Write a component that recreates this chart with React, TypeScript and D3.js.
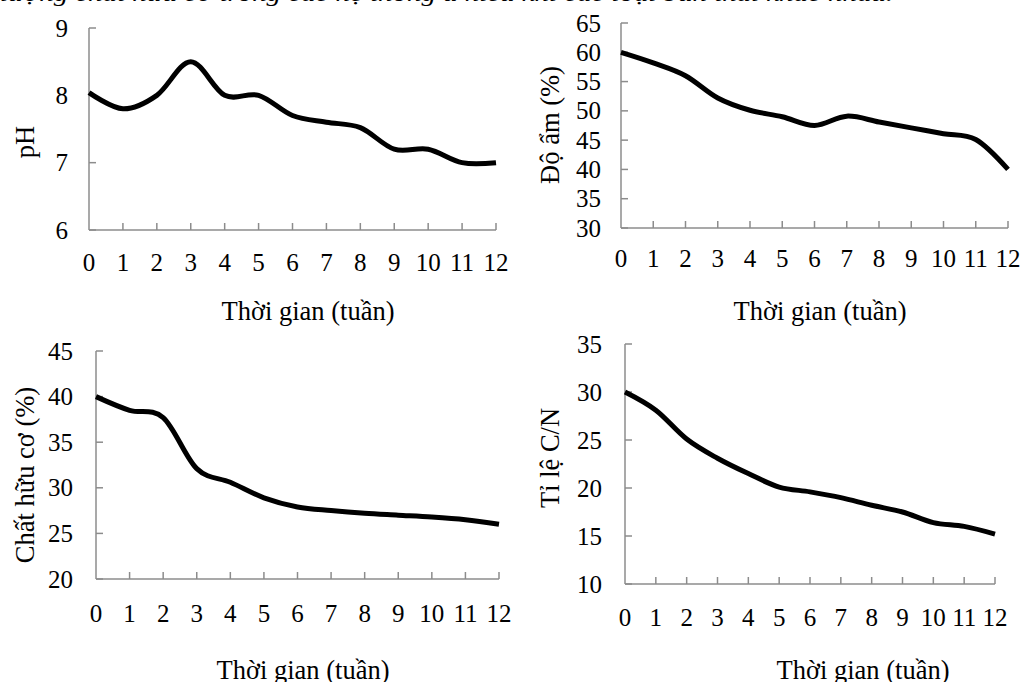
import React from 'react';
import * as d3 from 'd3';

const weeks = [0, 1, 2, 3, 4, 5, 6, 7, 8, 9, 10, 11, 12];
const phValues = [8.04, 7.8, 8.0, 8.5, 8.0, 8.0, 7.7, 7.6, 7.52, 7.2, 7.2, 7.0, 7.0];
const moistureValues = [60, 58.2, 56, 52.2, 50.1, 49, 47.5, 49.1, 48.1, 47.1, 46.1, 45.1, 40];
const organicValues = [40, 38.5, 37.7, 32.1, 30.6, 28.9, 27.9, 27.5, 27.2, 27.0, 26.8, 26.5, 26];
const cnValues = [30, 28.1, 25.1, 23.1, 21.5, 20.1, 19.6, 19.0, 18.2, 17.5, 16.4, 16.0, 15.2];

const phTicks = [6, 7, 8, 9];
const moistureTicks = [30, 35, 40, 45, 50, 55, 60, 65];
const organicTicks = [20, 25, 30, 35, 40, 45];
const cnTicks = [10, 15, 20, 25, 30, 35];

const phLabel = 'pH';
const moistureLabel = 'Độ ẩm (%)';
const organicLabel = 'Chất hữu cơ (%)';
const cnLabel = 'Tỉ lệ C/N';
const xTitle = 'Thời gian (tuần)';
const captionText = 'lượng chất hữu cơ trong các hệ thống ủ hiếu khí các loại bùn thải khác nhau.';

const FONT = '"Liberation Serif", "Times New Roman", serif';
const AXIS = '#8c8c8c';

type PanelProps = {
  values: number[];
  ticks: number[];
  yLabel: string;
  x0: number;
  x1: number;
  yTop: number;
  yBottom: number;
  labelRight: number;
  xLabelY: number;
  titleX: number;
  titleY: number;
  yLabelX: number;
  yLabelY: number;
};

function Panel(p: PanelProps) {
  const x = d3.scaleLinear().domain([0, 12]).range([p.x0, p.x1]);
  const y = d3
    .scaleLinear()
    .domain([p.ticks[0], p.ticks[p.ticks.length - 1]])
    .range([p.yBottom, p.yTop]);
  const line = d3
    .line<number>()
    .x((_, i) => x(weeks[i]))
    .y((d) => y(d))
    .curve(d3.curveCardinal.tension(0));
  return (
    <g>
      <line x1={p.x0} x2={p.x0} y1={p.yTop} y2={p.yBottom} stroke={AXIS} strokeWidth={1.5} />
      <line x1={p.x0} x2={p.x1} y1={p.yBottom} y2={p.yBottom} stroke={AXIS} strokeWidth={1.5} />
      {p.ticks.map((t) => (
        <g key={'y' + t}>
          <line x1={p.x0} x2={p.x0 + 7} y1={y(t)} y2={y(t)} stroke={AXIS} strokeWidth={1.5} />
          <text
            x={p.labelRight}
            y={y(t)}
            textAnchor="end"
            dominantBaseline="central"
            fontFamily={FONT}
            fontSize={25}
            fill="#000"
          >
            {t}
          </text>
        </g>
      ))}
      {weeks.map((w) => (
        <g key={'x' + w}>
          {w > 0 && (
            <line x1={x(w)} x2={x(w)} y1={p.yBottom} y2={p.yBottom - 7} stroke={AXIS} strokeWidth={1.5} />
          )}
          <text
            x={x(w)}
            y={p.xLabelY}
            textAnchor="middle"
            dominantBaseline="central"
            fontFamily={FONT}
            fontSize={25}
            fill="#000"
          >
            {w}
          </text>
        </g>
      ))}
      <path d={line(p.values) || ''} fill="none" stroke="#000" strokeWidth={5} />
      <text
        x={p.titleX}
        y={p.titleY}
        textAnchor="middle"
        dominantBaseline="central"
        fontFamily={FONT}
        fontSize={26.5}
        fill="#000"
      >
        {xTitle}
      </text>
      <text
        transform={`translate(${p.yLabelX},${p.yLabelY}) rotate(-90)`}
        textAnchor="middle"
        dominantBaseline="central"
        fontFamily={FONT}
        fontSize={26.5}
        fill="#000"
      >
        {p.yLabel}
      </text>
    </g>
  );
}

export default function App() {
  return (
    <svg
      width={1024}
      height={682}
      style={{ position: 'absolute', left: 0, top: 0, background: '#fff' }}
    >
      <rect width={1024} height={682} fill="#fff" />
      <text
        x={0}
        y={1}
        fontFamily={FONT}
        fontStyle="italic"
        fontSize={24}
        textLength={893}
        lengthAdjust="spacingAndGlyphs"
        fill="#000"
      >
        {captionText}
      </text>
      <Panel
        values={phValues}
        ticks={phTicks}
        yLabel={phLabel}
        x0={89}
        x1={496}
        yTop={28}
        yBottom={230}
        labelRight={68}
        xLabelY={262}
        titleX={308}
        titleY={311}
        yLabelX={25}
        yLabelY={142}
      />
      <Panel
        values={moistureValues}
        ticks={moistureTicks}
        yLabel={moistureLabel}
        x0={621}
        x1={1008}
        yTop={23}
        yBottom={228}
        labelRight={601}
        xLabelY={258}
        titleX={820}
        titleY={311}
        yLabelX={550}
        yLabelY={125}
      />
      <Panel
        values={organicValues}
        ticks={organicTicks}
        yLabel={organicLabel}
        x0={96}
        x1={499}
        yTop={351}
        yBottom={579}
        labelRight={73}
        xLabelY={613}
        titleX={303}
        titleY={670}
        yLabelX={25}
        yLabelY={475}
      />
      <Panel
        values={cnValues}
        ticks={cnTicks}
        yLabel={cnLabel}
        x0={625}
        x1={995}
        yTop={344}
        yBottom={584}
        labelRight={602}
        xLabelY={617}
        titleX={863}
        titleY={670}
        yLabelX={550}
        yLabelY={458}
      />
    </svg>
  );
}
